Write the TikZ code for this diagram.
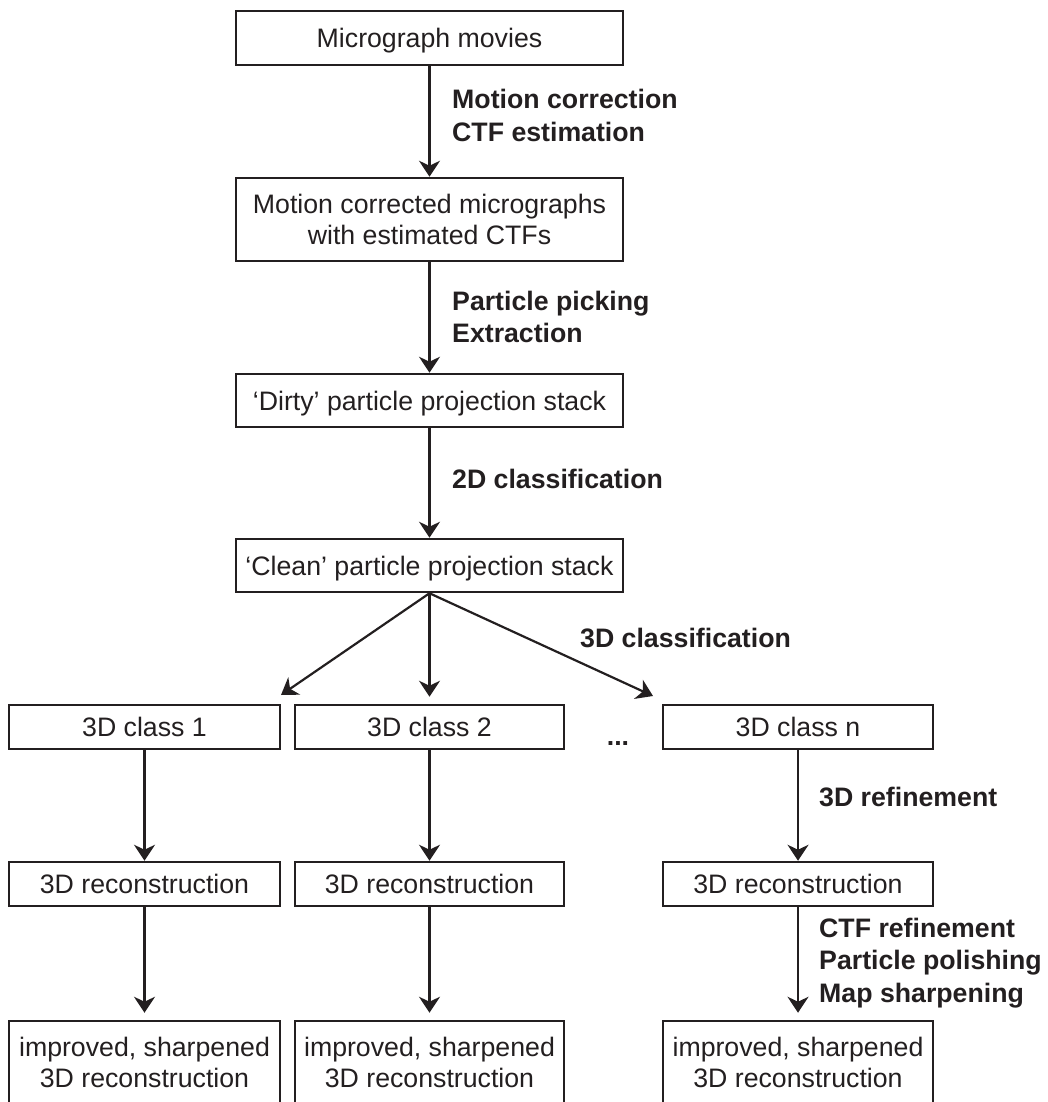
\documentclass[tikz,border=0pt]{standalone}
\usepackage{fontspec}
\setmainfont{Liberation Sans}
\usetikzlibrary{arrows.meta}
\definecolor{ink}{HTML}{231F20}
\begin{document}
\begin{tikzpicture}[x=1pt,y=-1pt,
  boxbase/.style={draw=ink, line width=2.5pt, rectangle, inner sep=0pt, text=ink,
    font=\fontsize{26.7}{31.5}\selectfont},
  sbox/.style={boxbase, text height=19.1pt, text depth=0pt},
  dbox/.style={boxbase, align=center},
  lab/.style={text=ink, inner sep=0pt, anchor=base west,
    font=\fontsize{26.7}{32.8}\selectfont\bfseries},
  arr/.style={draw=ink, line width=2.2pt, -{Stealth[length=16pt,width=21pt,inset=5pt]}}]
\useasboundingbox (0,0) rectangle (1047,1102);

% main column
\node[sbox, minimum width=387pt, minimum height=54pt] (b1) at (429.5,38) {Micrograph movies};
\node[dbox, minimum width=387pt, minimum height=83pt] (b2) at (429.5,219.5) {Motion corrected micrographs\\with estimated CTFs};
\node[sbox, minimum width=387pt, minimum height=53pt] (b3) at (429.5,400.5) {‘Dirty’ particle projection stack};
\node[sbox, minimum width=387pt, minimum height=53pt] (b4) at (429.5,565.5) {‘Clean’ particle projection stack};

% class row
\node[sbox, minimum width=271pt, minimum height=44pt] (c1) at (144.5,727) {3D class 1};
\node[sbox, minimum width=269pt, minimum height=44pt] (c2) at (429.5,727) {3D class 2};
\node[sbox, minimum width=270pt, minimum height=44pt] (cn) at (798,727) {3D class n};
\node[lab, anchor=base] (dots) at (618,745) {...};

% reconstruction row
\node[sbox, minimum width=271pt, minimum height=44pt] (r1) at (144.5,884) {3D reconstruction};
\node[sbox, minimum width=269pt, minimum height=44pt] (r2) at (429.5,884) {3D reconstruction};
\node[sbox, minimum width=270pt, minimum height=44pt] (rn) at (798,884) {3D reconstruction};

% final row
\node[dbox, minimum width=271pt, minimum height=83pt] (f1) at (144.5,1062.5) {improved, sharpened\\3D reconstruction};
\node[dbox, minimum width=269pt, minimum height=83pt] (f2) at (429.5,1062.5) {improved, sharpened\\3D reconstruction};
\node[dbox, minimum width=270pt, minimum height=83pt] (fn) at (798,1062.5) {improved, sharpened\\3D reconstruction};

% labels
\node[lab] (l1) at (452,109) {\vtop{\hbox{Motion correction}\hbox{CTF estimation}}};
\node[lab] (l2) at (452,310) {\vtop{\hbox{Particle picking}\hbox{Extraction}}};
\node[lab] (l3) at (452,488) {2D classification};
\node[lab] (l4) at (580,647) {3D classification};
\node[lab] (l5) at (819,806) {3D refinement};
\node[lab] (l6) at (819,937) {\vtop{\hbox{CTF refinement}\hbox{Particle polishing}\hbox{Map sharpening}}};

% arrow ends
\coordinate (t1) at (281,695);
\coordinate (tn) at (653,696);

% connectors
\draw[arr] (b1.south) -- (b2.north);
\draw[arr] (b2.south) -- (b3.north);
\draw[arr] (b3.south) -- (b4.north);
\draw[arr] (b4.south) -- (t1);
\draw[arr, shorten >=7pt] (b4.south) -- (c2.north);
\draw[arr] (b4.south) -- (tn);
\draw[arr] (c1.south) -- (r1.north);
\draw[arr] (c2.south) -- (r2.north);
\draw[arr] (cn.south) -- (rn.north);
\draw[arr, shorten >=7pt] (r1.south) -- (f1.north);
\draw[arr, shorten >=7pt] (r2.south) -- (f2.north);
\draw[arr, shorten >=7pt] (rn.south) -- (fn.north);
\end{tikzpicture}
\end{document}
